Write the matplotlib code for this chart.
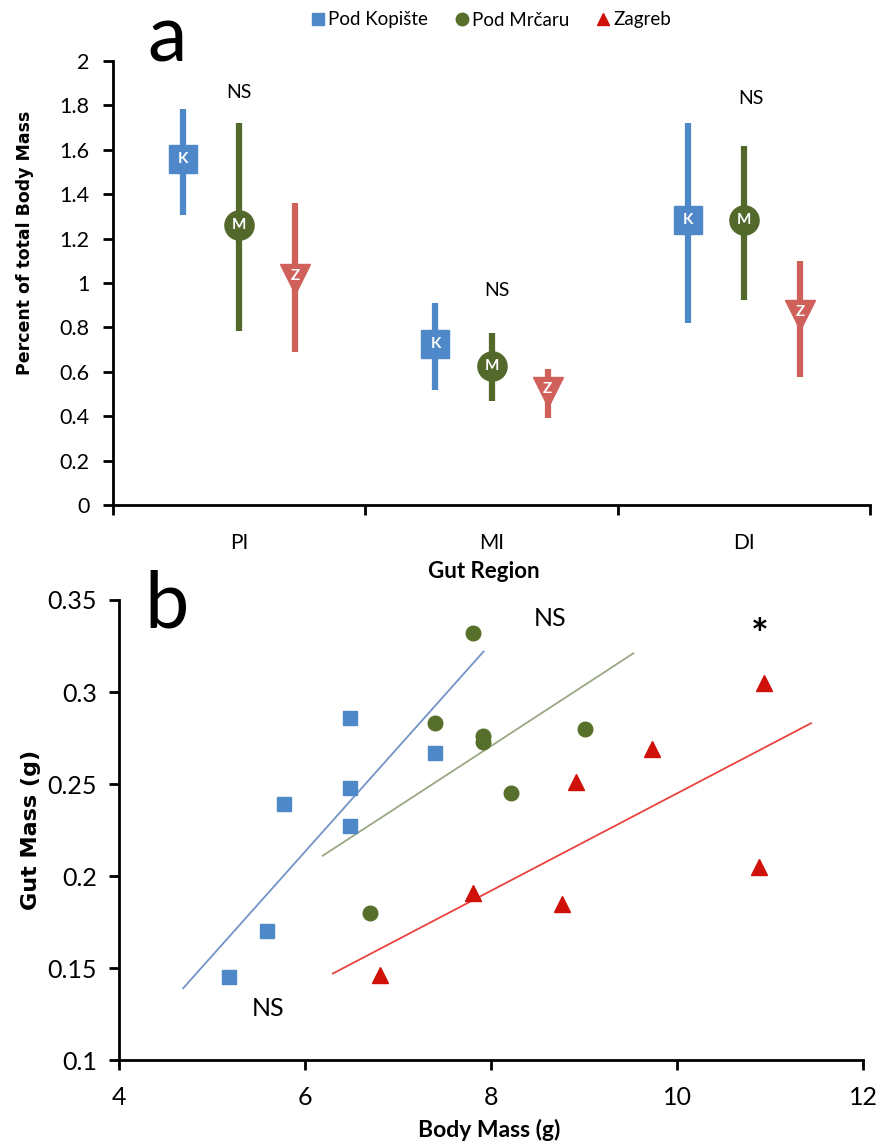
import numpy as np
import matplotlib
matplotlib.use("Agg")
import matplotlib.pyplot as plt
from matplotlib.lines import Line2D
from matplotlib.ticker import FuncFormatter, MultipleLocator

plt.rcParams['font.family'] = ['Lato', 'DejaVu Sans']

# ---------------- data: panel a ----------------
regions = ["PI", "MI", "DI"]
sites = ["Pod Kopište", "Pod Mrčaru", "Zagreb"]
site_letters = ["K", "M", "Z"]
mean_K = [1.56, 0.725, 1.285]
low_K = [1.305, 0.52, 0.82]
high_K = [1.785, 0.91, 1.72]
mean_M = [1.26, 0.627, 1.285]
low_M = [0.785, 0.468, 0.923]
high_M = [1.72, 0.775, 1.617]
mean_Z = [1.02, 0.51, 0.857]
low_Z = [0.69, 0.392, 0.578]
high_Z = [1.36, 0.613, 1.10]
ns_a_x = [0.0, 1.02, 2.03]
ns_a_y = [1.856, 0.968, 1.83]
ns_a_text = ["NS", "NS", "NS"]

# ---------------- data: panel b ----------------
kop_body = [5.18, 5.59, 5.77, 6.48, 6.48, 6.48, 7.40]
kop_gut = [0.145, 0.170, 0.239, 0.286, 0.248, 0.227, 0.267]
mrc_body = [6.70, 7.40, 7.81, 7.91, 7.91, 8.21, 9.01]
mrc_gut = [0.180, 0.283, 0.332, 0.276, 0.273, 0.245, 0.280]
zag_body = [6.81, 7.81, 8.76, 8.91, 9.73, 10.88, 10.94]
zag_gut = [0.146, 0.191, 0.185, 0.251, 0.269, 0.205, 0.305]
# fitted trend lines (end points as drawn)
kop_fit_x = [4.69, 7.92]
kop_fit_y = [0.139, 0.322]
mrc_fit_x = [6.19, 9.53]
mrc_fit_y = [0.211, 0.321]
zag_fit_x = [6.30, 11.44]
zag_fit_y = [0.147, 0.283]
ann_b_x = [8.64, 10.89, 5.60]
ann_b_y = [0.340, 0.330, 0.128]
ann_b_text = ["NS", "*", "NS"]

# ---------------- styles ----------------
W, H = 883, 1145
blue_a, green_a, red_a = "#4F88C8", "#53692B", "#D0605A"
blue_b, green_b, red_b = "#4F88C8", "#56702C", "#D0110A"
line_blue, line_green, line_red = "#7294C6", "#9AA882", "#E8433E"

fig = plt.figure(figsize=(W / 100, H / 100), dpi=100)

def px_axes(l, t, r, b):
    return fig.add_axes([l / W, (H - b) / H, (r - l) / W, (b - t) / H])

def style_axes(ax):
    for s in ["top", "right"]:
        ax.spines[s].set_visible(False)
    for s in ["left", "bottom"]:
        ax.spines[s].set_linewidth(2.0)
        ax.spines[s].set_color("black")

# ---------------- panel a ----------------
ax1 = px_axes(113, 61, 870, 505)
style_axes(ax1)
xc = np.arange(len(regions))
off = 0.222
series = [
    (mean_K, low_K, high_K, blue_a, "s", 20, -off),
    (mean_M, low_M, high_M, green_a, "o", 21, 0.0),
    (mean_Z, low_Z, high_Z, red_a, "v", 22, off),
]
for (m, lo, hi, col, mk, ms, dx), letter in zip(series, site_letters):
    m = np.array(m); lo = np.array(lo); hi = np.array(hi)
    ax1.errorbar(xc + dx, m, yerr=[m - lo, hi - m], fmt="none",
                 ecolor=col, elinewidth=4.5, capsize=0, zorder=2)
    ax1.plot(xc + dx, m, linestyle="none", marker=mk, markersize=ms,
             color=col, markeredgecolor=col, zorder=3)
    for xi, yi in zip(xc + dx, m):
        ax1.text(xi, yi + (0.012 if mk == "v" else 0), letter, color="white",
                 fontsize=11, fontweight="bold", ha="center", va="center",
                 zorder=4)
for x, y, t in zip(ns_a_x, ns_a_y, ns_a_text):
    ax1.text(x, y, t, fontsize=14, ha="center", va="center")

ax1.set_xlim(-0.5, 2.5)
ax1.set_ylim(0, 2)
ax1.yaxis.set_major_locator(MultipleLocator(0.2))
ax1.yaxis.set_major_formatter(FuncFormatter(lambda v, p: f"{v:g}"))
ax1.set_xticks([-0.5, 0.5, 1.5, 2.5])
ax1.set_xticklabels([])
ax1.set_xticks(xc, minor=True)
ax1.set_xticklabels(regions, minor=True)
ax1.tick_params(axis="x", which="minor", length=0, pad=20, labelsize=15)
ax1.tick_params(axis="x", which="major", length=7, width=2, direction="out")
ax1.tick_params(axis="y", length=7, width=2, direction="out", pad=10,
                labelsize=15.5)
ax1.set_xlabel("Gut Region", fontsize=16, fontweight="bold")
ax1.xaxis.set_label_coords(0.49, -0.125)
ax1.set_ylabel("Percent of total Body Mass", fontsize=12.5, fontweight="bold",
               family="DejaVu Sans")
ax1.yaxis.set_label_coords(-0.104, 0.59)

# ---------------- panel b ----------------
ax2 = px_axes(119, 600, 863, 1060)
style_axes(ax2)
ax2.plot(kop_fit_x, kop_fit_y, color=line_blue, lw=1.3, zorder=2)
ax2.plot(mrc_fit_x, mrc_fit_y, color=line_green, lw=1.3, zorder=2)
ax2.plot(zag_fit_x, zag_fit_y, color=line_red, lw=1.3, zorder=2)
ax2.plot(kop_body, kop_gut, linestyle="none", marker="s", markersize=10.5,
         color=blue_b, zorder=3)
ax2.plot(mrc_body, mrc_gut, linestyle="none", marker="o", markersize=10.5,
         color=green_b, zorder=3)
ax2.plot(zag_body, zag_gut, linestyle="none", marker="^", markersize=11,
         color=red_b, zorder=3)
for x, y, t in zip(ann_b_x, ann_b_y, ann_b_text):
    if t == "*":
        ax2.text(x, y, t, fontsize=30, fontweight="bold", ha="center",
                 va="center")
    else:
        ax2.text(x, y, t, fontsize=18, ha="center", va="center")
ax2.set_xlim(4, 12)
ax2.set_ylim(0.1, 0.35)
ax2.xaxis.set_major_locator(MultipleLocator(2))
ax2.yaxis.set_major_locator(MultipleLocator(0.05))
ax2.yaxis.set_major_formatter(FuncFormatter(lambda v, p: f"{round(v, 2):g}"))
ax2.tick_params(length=7, width=2, direction="out", labelsize=18)
ax2.tick_params(axis="x", pad=12)
ax2.tick_params(axis="y", pad=9)
ax2.set_xlabel("Body Mass (g)", fontsize=16.5, fontweight="bold")
ax2.xaxis.set_label_coords(0.497, -0.128)
ax2.set_ylabel("Gut Mass (g)", fontsize=16, fontweight="bold",
               family="DejaVu Sans")
ax2.yaxis.set_label_coords(-0.105, 0.5)

# ---------------- legend & panel letters ----------------
handles = [
    Line2D([], [], linestyle="none", marker="s", color=blue_b, markersize=9),
    Line2D([], [], linestyle="none", marker="o", color=green_b, markersize=9),
    Line2D([], [], linestyle="none", marker="^", color=red_b, markersize=9),
]
fig.legend(handles, sites, loc="center", bbox_to_anchor=(490 / W, 1 - 20 / H),
           ncol=3, frameon=False, fontsize=13.5, handletextpad=0.05,
           columnspacing=1.3, handlelength=1.0)
fig.text(167 / W, 1 - 40 / H, "a", fontsize=57, ha="center", va="center")
fig.text(167 / W, 1 - 606 / H, "b", fontsize=57, ha="center", va="center")

fig.savefig("out.png", dpi=100)
